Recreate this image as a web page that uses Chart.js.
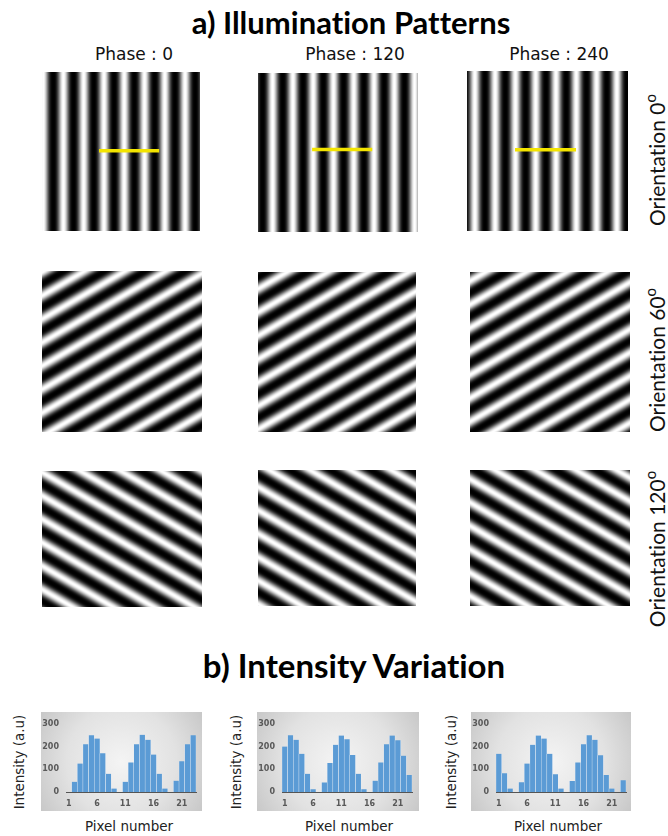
<!DOCTYPE html>
<html>
<head>
<meta charset="utf-8">
<script src="https://cdn.jsdelivr.net/npm/chart.js@4.4.0/dist/chart.umd.min.js"></script>
<style>
    body { margin: 0; width: 668px; height: 836px; background: #fff; position: relative; overflow: hidden; }
    .box { position: absolute; }
    .lbl { position: absolute; white-space: nowrap; line-height: 1; color: #111; transform: translate(-50%, -50%); font-variant-ligatures: none; }
    .title { font-family: Lato, "Open Sans", sans-serif; font-weight: bold; font-size: 31px; color: #000; }
    .title.b { font-size: 33px; }
    .phase { font-family: "DejaVu Sans", Verdana, sans-serif; font-size: 17px; }
    .orient { font-family: Lato, "Open Sans", sans-serif; font-size: 21px; transform: translate(-50%, -50%) rotate(-90deg); }
    .orient sup { font-size: 15px; vertical-align: 9px; }
    .axis { font-family: "DejaVu Sans", Verdana, sans-serif; font-size: 13.5px; color: #222; }
    .axis.rot { transform: translate(-50%, -50%) rotate(-90deg); }
</style>
</head>
<body>
<script>
// Illumination pattern parameters
const phases = [0, 120, 240];           // degrees
const orientations = [0, 60, 120];      // degrees
const fringePeriod = 9;                 // pattern pixels per fringe
const fringeOffset = 5;                 // first dark fringe, phase 0
// yellow profile line drawn on the 0 deg patterns (pattern pixels)
const profileX = [[25.3, 52], [24, 50.7], [21.3, 48.4]];
const profileY = [35, 34, 35];

// Intensity profiles along the yellow line
const pixels = Array.from({ length: 23 }, (_, i) => String(i + 1));
const intensityPhase0 = [0, 45, 125, 210, 250, 235, 170, 80, 15, 0, 45, 130, 210, 252, 230, 165, 80, 15, 0, 50, 135, 210, 250];
const intensityPhase120 = [200, 250, 230, 168, 80, 12, 0, 42, 128, 208, 248, 232, 163, 80, 12, 0, 50, 130, 210, 248, 228, 160, 75];
const intensityPhase240 = [168, 82, 15, 0, 43, 125, 208, 248, 235, 168, 78, 15, 0, 48, 130, 210, 250, 230, 162, 75, 15, 0, 52];
const intensityTicks = [0, 100, 200, 300];
const pixelTicks = ['1', '6', '11', '16', '21'];

function addLabel(html, cx, cy, cls) {
    const d = document.createElement('div');
    d.className = 'lbl ' + cls;
    d.innerHTML = html;
    d.style.left = cx + 'px';
    d.style.top = cy + 'px';
    document.body.appendChild(d);
}

function addCanvas(x, y, w, h) {
    const c = document.createElement('canvas');
    c.className = 'box';
    c.width = w;
    c.height = h;
    c.style.left = x + 'px';
    c.style.top = y + 'px';
    document.body.appendChild(c);
    return c;
}

// paints the fringe pattern pixel by pixel through the chart scales
const fringePlugin = {
    id: 'fringe',
    beforeDatasetsDraw(chart, args, opts) {
        const { ctx, chartArea: a, scales: { x, y } } = chart;
        const w = Math.round(a.right - a.left), h = Math.round(a.bottom - a.top);
        const img = ctx.createImageData(w, h);
        const th = opts.orientation * Math.PI / 180;
        const kx = Math.cos(th), ky = Math.sin(th);
        const ph = opts.phase * Math.PI / 180;
        for (let j = 0; j < h; j++) {
            const v = y.getValueForPixel(a.top + j + 0.5);
            for (let i = 0; i < w; i++) {
                const u = x.getValueForPixel(a.left + i + 0.5);
                const s = 0.5 - 0.5 * Math.cos(2 * Math.PI * (kx * u + ky * v - fringeOffset) / fringePeriod + ph);
                const g = Math.round(255 * Math.pow(s, 1.4));
                const p = (j * w + i) * 4;
                img.data[p] = img.data[p + 1] = img.data[p + 2] = g;
                img.data[p + 3] = 255;
            }
        }
        ctx.putImageData(img, a.left, a.top);
    }
};

// grey radial backdrop like the spreadsheet charts
const backdropPlugin = {
    id: 'backdrop',
    beforeDraw(chart) {
        const { ctx, width, height } = chart;
        const g = ctx.createRadialGradient(width / 2, height / 2, 0, width / 2, height / 2, width * 0.62);
        g.addColorStop(0, '#f4f4f4');
        g.addColorStop(0.55, '#e2e2e2');
        g.addColorStop(1, '#c4c4c4');
        ctx.save();
        ctx.fillStyle = g;
        ctx.fillRect(0, 0, width, height);
        ctx.restore();
    }
};

// ---- a) Illumination Patterns ----
addLabel('a) Illumination Patterns', 351, 22, 'title');
const colX = [134, 355, 559];
phases.forEach((p, i) => addLabel('Phase : ' + p, colX[i], 54, 'phase'));

const imgBoxes = [
    [[42, 72, 158, 159], [258, 73, 160, 159], [467, 71, 161, 160]],
    [[42, 271, 160, 161], [258, 272, 158, 160], [470, 272, 160, 160]],
    [[42, 471, 160, 136], [258, 470, 158, 136], [470, 470, 160, 136]]
];
const unitPx = 160 / 71;
const orientY = [160, 360, 549];

orientations.forEach((o, r) => {
    addLabel('Orientation ' + o + '<sup>o</sup>', 655, orientY[r], 'orient');
    phases.forEach((p, c) => {
        const [bx, by, bw, bh] = imgBoxes[r][c];
        const datasets = [];
        if (o === 0) {
            datasets.push({
                data: profileX[c].map(u => ({ x: u, y: profileY[c] })),
                showLine: true,
                borderColor: '#f3e400',
                borderWidth: 3.5,
                pointRadius: 0
            });
        }
        new Chart(addCanvas(bx, by, bw, bh), {
            type: 'scatter',
            data: { datasets },
            options: {
                responsive: false,
                animation: false,
                events: [],
                layout: { padding: 0 },
                scales: {
                    x: { type: 'linear', display: false, min: 0, max: bw / unitPx },
                    y: { type: 'linear', display: false, reverse: true, min: 0, max: bh / unitPx }
                },
                plugins: {
                    legend: { display: false },
                    tooltip: { enabled: false },
                    fringe: { orientation: o, phase: p }
                }
            },
            plugins: [fringePlugin]
        });
    });
});

// ---- b) Intensity Variation ----
addLabel('b) Intensity Variation', 354, 665, 'title b');

const barBoxes = [[41, 712, 161, 99], [257, 712, 162, 99], [471, 712, 160, 99]];
const yLabelX = [20, 237, 452];
const xLabelX = [129, 349, 558];
[intensityPhase0, intensityPhase120, intensityPhase240].forEach((series, i) => {
    const [bx, by, bw, bh] = barBoxes[i];
    addLabel('Intensity (a.u)', yLabelX[i], 762, 'axis rot');
    addLabel('Pixel number', xLabelX[i], 827, 'axis');
    new Chart(addCanvas(bx, by, bw, bh), {
        type: 'bar',
        data: {
            labels: pixels,
            datasets: [{
                data: series,
                backgroundColor: '#5b9bd5',
                borderColor: '#e9eef5',
                borderWidth: { left: 0.5, right: 0.5, top: 0, bottom: 0 },
                borderSkipped: false,
                barPercentage: 1,
                categoryPercentage: 1
            }]
        },
        options: {
            responsive: false,
            animation: false,
            events: [],
            layout: { padding: { top: 7.5, right: bw - 155, left: 0, bottom: 0 } },
            scales: {
                x: {
                    grid: { display: false, drawTicks: false },
                    border: { display: true, color: '#555', width: 1 },
                    afterFit: s => { s.height = 19; },
                    ticks: {
                        autoSkip: false,
                        maxRotation: 0,
                        padding: 7,
                        color: '#595959',
                        font: { family: 'DejaVu Sans', size: 8, weight: 'bold' },
                        callback: (v, idx) => pixelTicks.includes(pixels[idx]) ? pixels[idx] : ''
                    }
                },
                y: {
                    min: 0,
                    max: 300,
                    grid: { display: false, drawTicks: false },
                    border: { display: false },
                    afterFit: s => { s.width = 25; },
                    afterBuildTicks: s => { s.ticks = intensityTicks.map(v => ({ value: v })); },
                    ticks: {
                        padding: 7,
                        color: '#595959',
                        font: { family: 'DejaVu Sans', size: 8, weight: 'bold' }
                    }
                }
            },
            plugins: {
                legend: { display: false },
                tooltip: { enabled: false }
            }
        },
        plugins: [backdropPlugin]
    });
});
</script>
</body>
</html>
